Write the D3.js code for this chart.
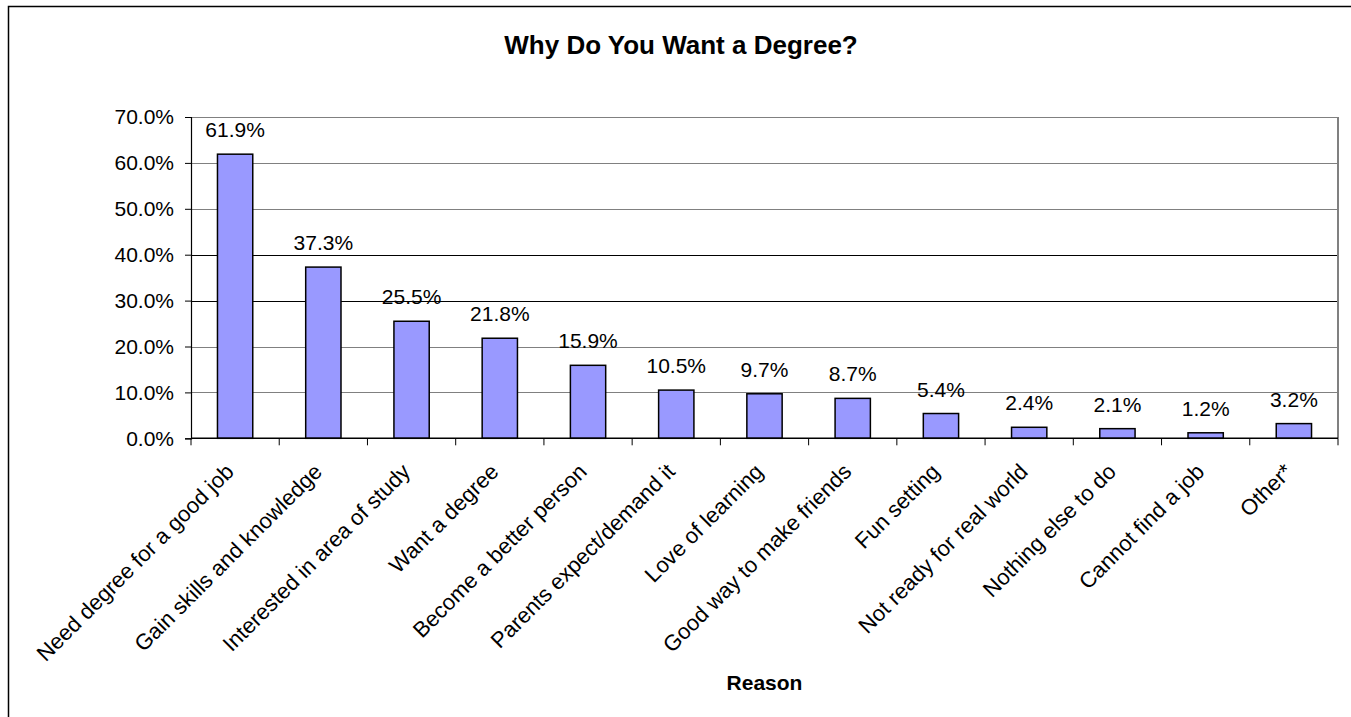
<!DOCTYPE html>
<html>
<head>
<meta charset="utf-8">
<script src="https://cdn.jsdelivr.net/npm/d3@7"></script>
<style>
  html, body { margin: 0; padding: 0; background: #fff; }
  svg { display: block; font-family: "Liberation Sans", Arial, sans-serif; }
</style>
</head>
<body>
<svg id="chart" width="1351" height="717"></svg>
<script>
const categories = [
  "Need degree for a good job",
  "Gain skills and knowledge",
  "Interested in area of study",
  "Want a degree",
  "Become a better person",
  "Parents expect/demand it",
  "Love of learning",
  "Good way to make friends",
  "Fun setting",
  "Not ready for real world",
  "Nothing else to do",
  "Cannot find a job",
  "Other*"
];
const values = [61.9, 37.3, 25.5, 21.8, 15.9, 10.5, 9.7, 8.7, 5.4, 2.4, 2.1, 1.2, 3.2];
const yTicks = [0, 10, 20, 30, 40, 50, 60, 70];
const chartTitle = "Why Do You Want a Degree?";
const xTitle = "Reason";

(function () {
const svg = d3.select("#chart");
const pLeft = 191, pRight = 1338, pTop = 117, pBottom = 438.3;

// outer chart border (right/bottom cropped)
svg.append("rect")
  .attr("x", 8.5).attr("y", 6.5)
  .attr("width", 1400).attr("height", 800)
  .attr("fill", "#fff").attr("stroke", "#000").attr("stroke-width", 1.5);

const y = d3.scaleLinear().domain([0, 70]).range([pBottom, pTop]);
const x = d3.scaleBand().domain(categories).range([pLeft, pRight])
  .paddingInner(0.6).paddingOuter(0.3);
const xCell = d3.scaleBand().domain(categories).range([pLeft, pRight]).padding(0);

// gridlines
svg.append("g").selectAll("line")
  .data(yTicks.filter(d => d > 0))
  .join("line")
  .attr("x1", pLeft).attr("x2", pRight)
  .attr("y1", d => Math.round(y(d)) + 0.5).attr("y2", d => Math.round(y(d)) + 0.5)
  .attr("stroke", d => (d === 30 || d === 40) ? "#000" : "#808080")
  .attr("stroke-width", 1.2);

// plot area right border
svg.append("line")
  .attr("x1", pRight).attr("x2", pRight).attr("y1", pTop).attr("y2", pBottom)
  .attr("stroke", "#808080").attr("stroke-width", 2);

// bars
svg.append("g").selectAll("rect")
  .data(values)
  .join("rect")
  .attr("x", (d, i) => x(categories[i]))
  .attr("width", x.bandwidth())
  .attr("y", d => y(d))
  .attr("height", d => y(0) - y(d))
  .attr("fill", "#9999FF")
  .attr("stroke", "#000")
  .attr("stroke-width", 1.5);

// data labels
svg.append("g").selectAll("text")
  .data(values)
  .join("text")
  .attr("x", (d, i) => x(categories[i]) + x.bandwidth() / 2)
  .attr("y", d => y(d) - 17)
  .attr("text-anchor", "middle")
  .attr("font-size", 21)
  .attr("fill", "#000")
  .text(d => d.toFixed(1) + "%");

// y axis
const yAxis = d3.axisLeft(y).tickValues(yTicks).tickSize(6).tickPadding(11)
  .tickFormat(d => d.toFixed(1) + "%");
const gy = svg.append("g").attr("transform", `translate(${pLeft},0)`).call(yAxis);
gy.select(".domain").attr("stroke", "#000").attr("stroke-width", 1.2);
gy.selectAll(".tick line").attr("stroke", "#000");
gy.selectAll(".tick text").attr("font-size", 21).attr("font-family", "Liberation Sans, Arial, sans-serif").attr("fill", "#000");

// x axis line
svg.append("line")
  .attr("x1", pLeft).attr("x2", pRight).attr("y1", pBottom).attr("y2", pBottom)
  .attr("stroke", "#000").attr("stroke-width", 1.5);

// x ticks at category boundaries
const bounds = categories.map(c => xCell(c)).concat([pRight]);
svg.append("g").selectAll("line")
  .data(bounds)
  .join("line")
  .attr("x1", d => d).attr("x2", d => d)
  .attr("y1", pBottom).attr("y2", pBottom + 7)
  .attr("stroke", "#000").attr("stroke-width", 1);

// category labels
svg.append("g").selectAll("text")
  .data(categories)
  .join("text")
  .attr("transform", d => `translate(${xCell(d) + xCell.bandwidth() / 2},473) rotate(-45)`)
  .attr("text-anchor", "end")
  .attr("font-size", 22)
  .attr("fill", "#000")
  .text(d => d);

// title
svg.append("text")
  .attr("x", 681).attr("y", 54)
  .attr("text-anchor", "middle")
  .attr("font-size", 26)
  .attr("font-weight", "bold")
  .text(chartTitle);

// axis title
svg.append("text")
  .attr("x", (pLeft + pRight) / 2).attr("y", 690)
  .attr("text-anchor", "middle")
  .attr("font-size", 21)
  .attr("font-weight", "bold")
  .text(xTitle);
})();
</script>
</body>
</html>
